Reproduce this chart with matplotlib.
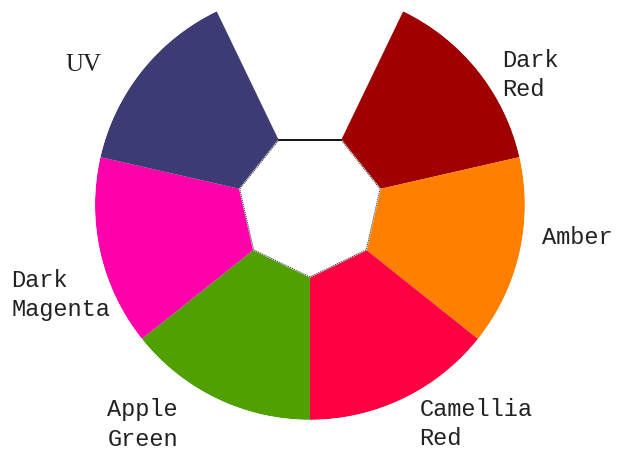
import matplotlib
matplotlib.use('Agg')
import matplotlib.pyplot as plt
import numpy as np

# slots clockwise from north; slot 0 is empty (the gap at the top)
labels = ['', 'Dark\nRed', 'Amber', 'Camellia\nRed', 'Apple\nGreen', 'Dark\nMagenta', 'UV']
values = [0, 1, 1, 1, 1, 1, 1]
colors = ['white', '#a00000', '#ff8000', '#ff0040', '#4fa000', '#ff00aa', '#3d3b73']

# label anchors (angle in degrees, radius) - placed by hand
label_pos = [None, (56, 1.08), (98, 1.09), (153.5, 1.14), (222.7, 1.39), (253.2, 1.45), (299.7, 1.31)]

n = len(labels)
step = 2 * np.pi / n
theta = np.arange(n) * step
r_in = 0.335

fig = plt.figure(figsize=(6.23, 4.59), dpi=100)
ax = fig.add_axes([0.1525, 0.085, 0.690, 0.937], projection='polar')
ax.set_theta_zero_location('N')
ax.set_theta_direction(-1)

for i in range(n):
    if values[i] == 0:
        continue
    ax.bar(theta[i], values[i], width=step, bottom=0, color=colors[i],
           edgecolor='none', linewidth=0)

# inner hole (straight edged polygon)
edges = theta + step / 2
ht = np.append(edges, edges[0])
hr = np.full(len(ht), r_in)
ax.fill(ht, hr, color='white', zorder=3)
ax.plot(ht[:-1], hr[:-1], color='#222222', lw=0.6, ls=(0, (1.5, 1)), zorder=4)
ax.plot([edges[-1], edges[0]], [r_in, r_in], color='black', lw=1.3, zorder=4)

for i in range(n):
    if label_pos[i] is None:
        continue
    a, r = label_pos[i]
    if labels[i] == 'UV':
        ax.text(np.deg2rad(a), r, labels[i], family='Liberation Serif', fontsize=18,
                ha='left', va='center', color='#222222')
    else:
        ax.text(np.deg2rad(a), r, labels[i], family='Liberation Mono', fontsize=17,
                ha='left', va='center', color='#222222', linespacing=1.35)

ax.set_ylim(0, 1)
ax.set_axis_off()

fig.savefig('out.png', dpi=100)
